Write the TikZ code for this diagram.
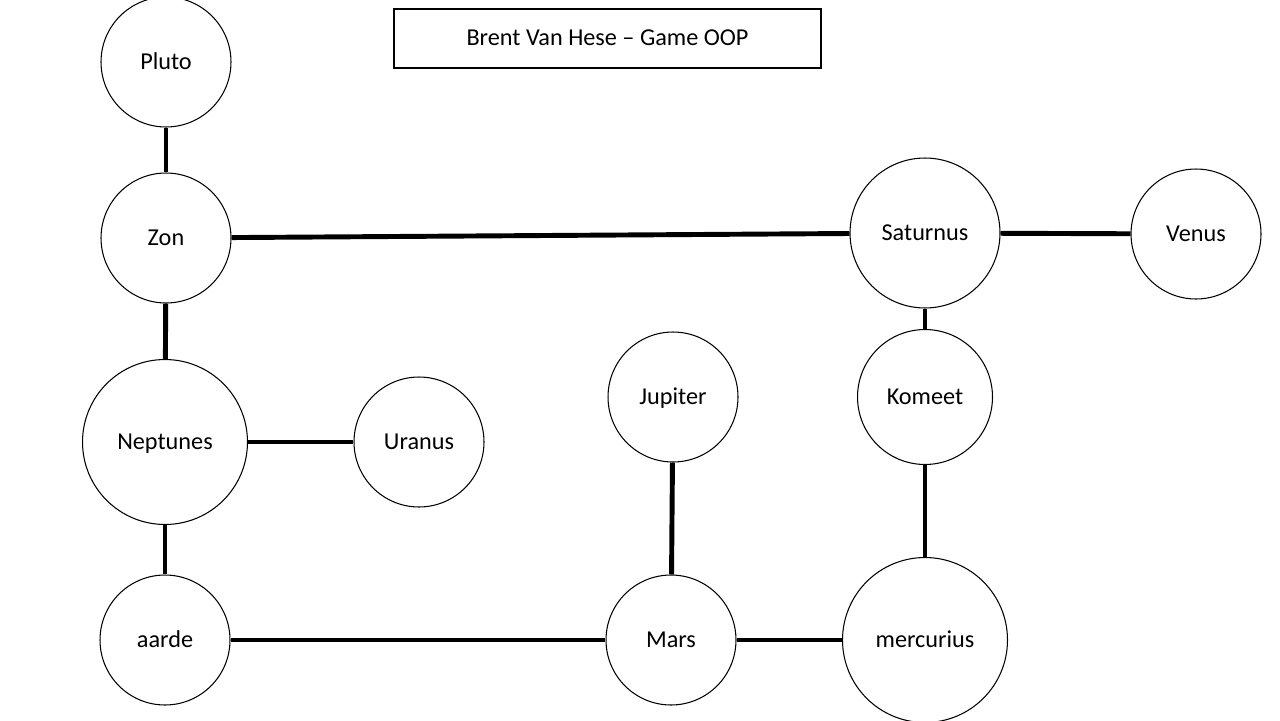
\documentclass[tikz,border=0pt]{standalone}
\usepackage{fontspec}
\setmainfont{Carlito}
\begin{document}
\begin{tikzpicture}[
            x=0.02cm, y=-0.02cm,
            every node/.style={circle, draw, line width=0.6pt, minimum size=2.6cm, inner sep=0pt,
                text height=0.82em, text depth=0em, font=\fontsize{13.8}{16}\selectfont},
            big/.style={minimum size=3.3cm},
            mid/.style={minimum size=3cm},
            link/.style={line width=2.8pt}
        ]
        \useasboundingbox (0,0) rectangle (1280,720);

        % Title
        \node[rectangle, line width=1.2pt, minimum width=8.54cm, minimum height=1.18cm] (title) at (607.5,38.5) {Brent Van Hese – Game OOP};

        % Left column
        \node (pluto) at (166,62) {Pluto};
        \node (zon) at (166,238) {Zon};
        \node[big] (neptunes) at (165,442) {Neptunes};
        \node (uranus) at (419,442) {Uranus};
        \node (aarde) at (165,640) {aarde};

        % Middle
        \node (jupiter) at (673,397) {Jupiter};
        \node (mars) at (671,640) {Mars};

        % Right column
        \node[mid] (saturnus) at (925,233) {Saturnus};
        \node (venus) at (1196,234) {Venus};
        \node[minimum size=2.7cm] (komeet) at (925,397) {Komeet};
        \node[big] (mercurius) at (925,640) {mercurius};

        % Connections
        \draw[link] (pluto) -- (zon);
        \draw[link] (zon) -- (neptunes);
        \draw[link] (zon) -- (saturnus);
        \draw[link] (neptunes) -- (uranus);
        \draw[link] (neptunes) -- (aarde);
        \draw[link] (aarde) -- (mars);
        \draw[link] (jupiter) -- (mars);
        \draw[link] (mars) -- (mercurius);
        \draw[link] (mercurius) -- (komeet);
        \draw[link] (komeet) -- (saturnus);
        \draw[link] (saturnus) -- (venus);
\end{tikzpicture}
\end{document}
